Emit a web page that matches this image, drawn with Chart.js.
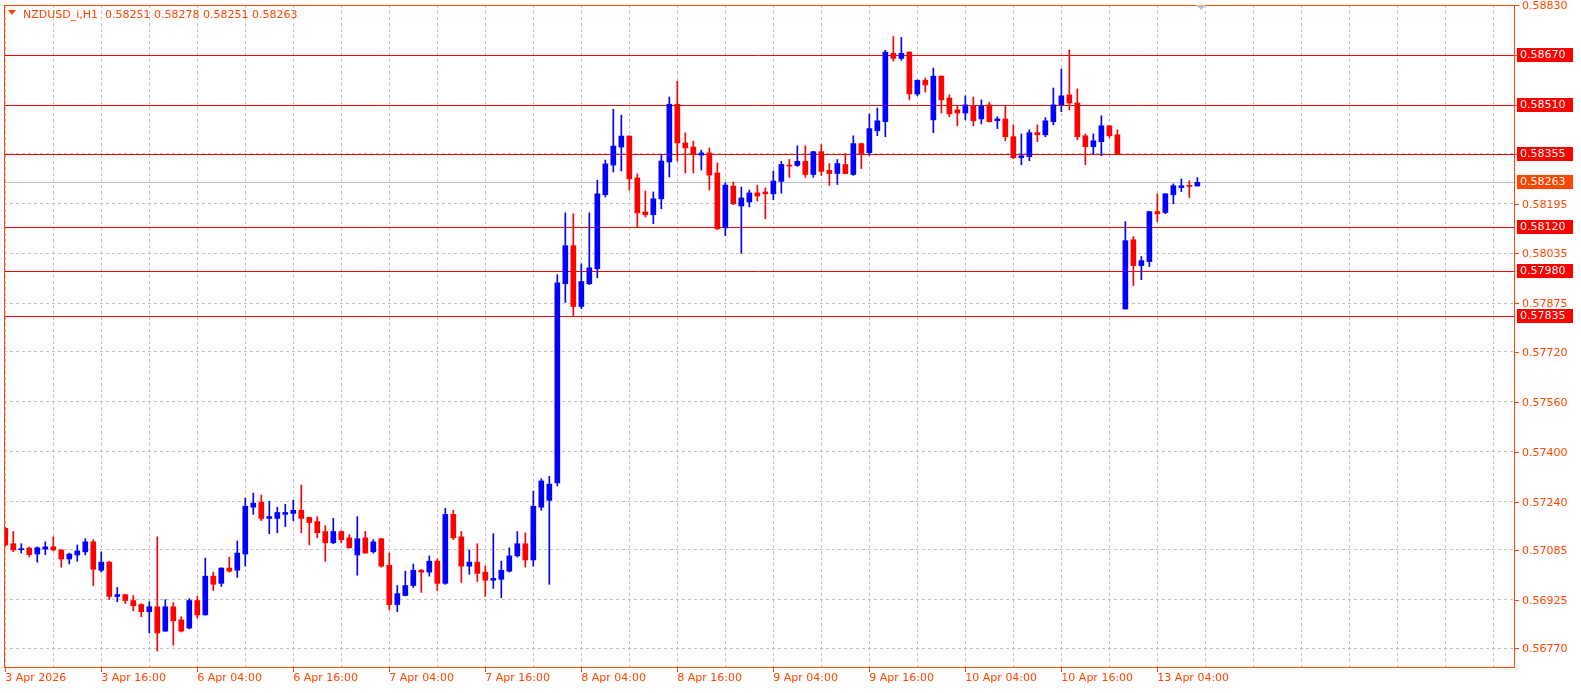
<!DOCTYPE html>
<html>
<head>
<meta charset="utf-8">
<script src="https://cdn.jsdelivr.net/npm/chart.js@4/dist/chart.umd.min.js"></script>
<style>
  html, body { margin: 0; padding: 0; background: #fff; }
  #wrap { width: 1581px; height: 693px; }
</style>
</head>
<body>
<div id="wrap"><canvas id="myChart" width="1581" height="693"></canvas></div>
<script>
// NZDUSD_i H1, candles from 3 Apr 2026 04:00
var opens = [0.57154,0.57105,0.57086,0.57091,0.57072,0.57088,0.57095,0.57085,0.57056,0.57069,
  0.57079,0.57111,0.57020,0.57046,0.56936,0.56942,0.56923,0.56910,0.56887,0.56903,
  0.56825,0.56903,0.56861,0.56835,0.56923,0.56877,0.57001,0.56978,0.57027,0.57020,
  0.57072,0.57222,0.57238,0.57186,0.57186,0.57199,0.57202,0.57212,0.57189,0.57176,
  0.57144,0.57108,0.57144,0.57124,0.57069,0.57124,0.57079,0.57121,0.57036,0.56910,
  0.56939,0.56971,0.57020,0.57014,0.57049,0.56978,0.57199,0.57127,0.57033,0.57046,
  0.57014,0.56988,0.56991,0.57017,0.57066,0.57105,0.57053,0.57222,0.57244,0.57300,
  0.57938,0.58060,0.57865,0.57938,0.57986,0.58223,0.58318,0.58376,0.58411,0.58277,
  0.58168,0.58159,0.58210,0.58328,0.58513,0.58389,0.58376,0.58350,0.58357,0.58293,
  0.58117,0.58251,0.58187,0.58200,0.58229,0.58232,0.58226,0.58266,0.58317,0.58317,
  0.58330,0.58288,0.58361,0.58301,0.58291,0.58320,0.58288,0.58387,0.58358,0.58428,
  0.58457,0.58676,0.58660,0.58680,0.58546,0.58590,0.58463,0.58603,0.58533,0.58495,
  0.58485,0.58508,0.58466,0.58511,0.58460,0.58466,0.58409,0.58342,0.58345,0.58422,
  0.58415,0.58457,0.58511,0.58543,0.58517,0.58412,0.58377,0.58393,0.58444,0.58415,
  0.57857,0.58079,0.57996,0.58009,0.58169,0.58166,0.58223,0.58246,0.58252,0.58251];
var highs = [0.57158,0.57144,0.57105,0.57095,0.57095,0.57111,0.57127,0.57086,0.57075,0.57101,
  0.57121,0.57118,0.57079,0.57049,0.56965,0.56943,0.56939,0.56913,0.56919,0.57127,
  0.56926,0.56916,0.56871,0.56929,0.56936,0.57059,0.57014,0.57028,0.57062,0.57114,
  0.57251,0.57267,0.57261,0.57241,0.57222,0.57231,0.57244,0.57293,0.57190,0.57192,
  0.57163,0.57186,0.57147,0.57134,0.57192,0.57144,0.57118,0.57122,0.57075,0.56971,
  0.57017,0.57040,0.57023,0.57066,0.57056,0.57218,0.57212,0.57144,0.57085,0.57105,
  0.57033,0.57137,0.57049,0.57092,0.57144,0.57140,0.57274,0.57313,0.57321,0.57967,
  0.58165,0.58162,0.58002,0.58165,0.58270,0.58334,0.58497,0.58478,0.58412,0.58290,
  0.58235,0.58232,0.58353,0.58536,0.58587,0.58421,0.58395,0.58366,0.58373,0.58325,
  0.58261,0.58264,0.58248,0.58238,0.58254,0.58245,0.58299,0.58330,0.58336,0.58380,
  0.58380,0.58362,0.58384,0.58323,0.58336,0.58355,0.58412,0.58388,0.58482,0.58501,
  0.58686,0.58730,0.58727,0.58681,0.58591,0.58597,0.58629,0.58604,0.58543,0.58508,
  0.58540,0.58536,0.58527,0.58520,0.58473,0.58508,0.58447,0.58418,0.58431,0.58447,
  0.58470,0.58565,0.58626,0.58687,0.58562,0.58418,0.58418,0.58476,0.58445,0.58431,
  0.58137,0.58089,0.58025,0.58170,0.58226,0.58227,0.58258,0.58274,0.58268,0.58278];
var lows = [0.57098,0.57079,0.57075,0.57063,0.57046,0.57070,0.57082,0.57030,0.57040,0.57049,
  0.57069,0.56971,0.57014,0.56926,0.56919,0.56913,0.56890,0.56871,0.56819,0.56761,
  0.56824,0.56780,0.56822,0.56832,0.56867,0.56876,0.56955,0.56968,0.57014,0.56997,
  0.57033,0.57199,0.57179,0.57137,0.57140,0.57160,0.57179,0.57140,0.57101,0.57124,
  0.57049,0.57105,0.57108,0.57091,0.57004,0.57074,0.57075,0.57030,0.56893,0.56887,
  0.56938,0.56965,0.56949,0.57001,0.56955,0.56975,0.57118,0.56981,0.57007,0.56984,
  0.56936,0.56962,0.56932,0.57014,0.57062,0.57030,0.57033,0.57212,0.56975,0.57290,
  0.57878,0.57836,0.57858,0.57935,0.57957,0.58216,0.58296,0.58299,0.58238,0.58120,
  0.58152,0.58130,0.58178,0.58280,0.58331,0.58293,0.58293,0.58302,0.58238,0.58111,
  0.58092,0.58191,0.58035,0.58184,0.58203,0.58146,0.58207,0.58228,0.58279,0.58314,
  0.58279,0.58279,0.58285,0.58253,0.58256,0.58290,0.58285,0.58307,0.58349,0.58412,
  0.58409,0.58651,0.58654,0.58527,0.58540,0.58552,0.58422,0.58485,0.58473,0.58444,
  0.58463,0.58444,0.58450,0.58456,0.58435,0.58396,0.58338,0.58319,0.58332,0.58393,
  0.58409,0.58447,0.58489,0.58495,0.58399,0.58319,0.58354,0.58348,0.58406,0.58353,
  0.57857,0.57932,0.57951,0.57993,0.58137,0.58162,0.58194,0.58233,0.58214,0.58251];
var closes = [0.57101,0.57085,0.57088,0.57070,0.57092,0.57095,0.57085,0.57056,0.57072,0.57082,
  0.57111,0.57023,0.57046,0.56936,0.56942,0.56923,0.56906,0.56887,0.56903,0.56819,
  0.56903,0.56858,0.56825,0.56923,0.56877,0.57001,0.56975,0.57027,0.57017,0.57075,
  0.57225,0.57235,0.57186,0.57192,0.57205,0.57205,0.57212,0.57186,0.57173,0.57140,
  0.57108,0.57144,0.57118,0.57092,0.57121,0.57075,0.57111,0.57033,0.56910,0.56945,
  0.56971,0.57020,0.57014,0.57049,0.56978,0.57199,0.57124,0.57033,0.57046,0.57010,
  0.56988,0.56994,0.57020,0.57066,0.57105,0.57053,0.57225,0.57306,0.57296,0.57941,
  0.58060,0.57865,0.57945,0.57989,0.58226,0.58322,0.58379,0.58411,0.58274,0.58165,
  0.58159,0.58210,0.58331,0.58513,0.58389,0.58373,0.58353,0.58357,0.58286,0.58114,
  0.58254,0.58194,0.58213,0.58229,0.58219,0.58226,0.58267,0.58320,0.58315,0.58330,
  0.58288,0.58361,0.58298,0.58291,0.58323,0.58291,0.58387,0.58355,0.58435,0.58460,
  0.58680,0.58660,0.58676,0.58546,0.58590,0.58575,0.58603,0.58527,0.58482,0.58485,
  0.58511,0.58460,0.58508,0.58457,0.58466,0.58409,0.58342,0.58348,0.58422,0.58415,
  0.58460,0.58511,0.58540,0.58517,0.58409,0.58377,0.58396,0.58444,0.58412,0.58354,
  0.58076,0.57996,0.58012,0.58169,0.58162,0.58226,0.58252,0.58252,0.58250,0.58263];

var timeLabels = ['3 Apr 2026','3 Apr 16:00','6 Apr 04:00','6 Apr 16:00','7 Apr 04:00','7 Apr 16:00',
  '8 Apr 04:00','8 Apr 16:00','9 Apr 04:00','9 Apr 16:00','10 Apr 04:00','10 Apr 16:00','13 Apr 04:00'];
var priceTicks = [0.58830,0.58670,0.58510,0.58355,0.58195,0.58035,0.57875,0.57720,0.57560,
  0.57400,0.57240,0.57085,0.56925,0.56770];
var levels = [0.58670,0.58510,0.58355,0.58120,0.57980,0.57835];
var bidPrice = 0.58263;

const AXIS = '#ff4500';
const FONT = 'DejaVu Sans';

var bodies = [], wicks = [], colors = [];
for (var i = 0; i < opens.length; i++) {
  bodies.push({ x: i, y: [opens[i], closes[i]] });
  wicks.push({ x: i, y: [lows[i], highs[i]] });
  colors.push(closes[i] >= opens[i] ? '#0000ff' : '#ff0000');
}

const overlay = {
  id: 'overlay',
  beforeDatasetsDraw(chart) {
    var ctx = chart.ctx, a = chart.chartArea, y = chart.scales.y;
    ctx.save();
    ctx.lineWidth = 1;
    var py = Math.round(y.getPixelForValue(bidPrice)) + 0.5;
    ctx.strokeStyle = '#c0c0c0';
    ctx.beginPath(); ctx.moveTo(a.left, py); ctx.lineTo(a.right, py); ctx.stroke();
    ctx.strokeStyle = '#ff0000';
    levels.forEach(function (v) {
      var p = Math.round(y.getPixelForValue(v)) + 0.5;
      ctx.beginPath(); ctx.moveTo(a.left, p); ctx.lineTo(a.right, p); ctx.stroke();
    });
    ctx.restore();
  },
  afterDraw(chart) {
    var ctx = chart.ctx, a = chart.chartArea, y = chart.scales.y, x = chart.scales.x;
    ctx.save();
    // frame
    ctx.strokeStyle = AXIS;
    ctx.lineWidth = 1;
    ctx.strokeRect(Math.round(a.left) + 0.5, Math.round(a.top) + 0.5,
      Math.round(a.right - a.left) - 1, Math.round(a.bottom - a.top));
    // time tick marks
    for (var k = 0; k < timeLabels.length; k++) {
      var tx = Math.round(x.getPixelForValue(k * 12)) + 0.5;
      ctx.beginPath(); ctx.moveTo(tx, a.bottom); ctx.lineTo(tx, a.bottom + 5); ctx.stroke();
    }
    // price labels
    ctx.font = '11px ' + FONT;
    ctx.textBaseline = 'middle';
    ctx.fillStyle = AXIS;
    priceTicks.forEach(function (v) {
      var p = Math.round(y.getPixelForValue(v)) + 0.5;
      ctx.beginPath(); ctx.moveTo(a.right, p); ctx.lineTo(a.right + 4, p); ctx.stroke();
      ctx.fillText(v.toFixed(5), a.right + 7, p + 0.5);
    });
    function box(v, bg) {
      var p = Math.round(y.getPixelForValue(v));
      ctx.fillStyle = bg;
      ctx.fillRect(a.right + 2, p - 7, 56, 14);
      ctx.fillStyle = '#ffffff';
      ctx.fillText(v.toFixed(5), a.right + 5, p + 0.5);
    }
    levels.forEach(function (v) { box(v, '#ff0000'); });
    box(bidPrice, '#ff4500');
    // header
    ctx.fillStyle = AXIS;
    ctx.beginPath(); ctx.moveTo(8, 10); ctx.lineTo(16, 10); ctx.lineTo(12, 15); ctx.closePath(); ctx.fill();
    ctx.textBaseline = 'alphabetic';
    ctx.fillText('NZDUSD_i,H1  0.58251 0.58278 0.58251 0.58263', 23, 18);
    // shift marker
    ctx.fillStyle = '#c0c0c0';
    ctx.beginPath(); ctx.moveTo(1196, 5); ctx.lineTo(1206, 5); ctx.lineTo(1201, 10); ctx.closePath(); ctx.fill();
    ctx.restore();
  }
};

const myChart = new Chart(document.getElementById('myChart'), {
  type: 'bar',
  data: {
    datasets: [{
      label: 'body',
      data: bodies,
      backgroundColor: colors,
      barThickness: 5,
      minBarLength: 1,
      grouped: false
    }, {
      label: 'wick',
      data: wicks,
      backgroundColor: colors,
      barThickness: 1,
      minBarLength: 1,
      grouped: false
    }]
  },
  options: {
    responsive: false,
    animation: false,
    devicePixelRatio: 1,
    layout: { padding: { left: 4, top: 5, right: 0, bottom: 0 } },
    plugins: { legend: { display: false }, tooltip: { enabled: false } },
    scales: {
      x: {
        type: 'linear',
        offset: false,
        min: -0.16,
        max: 188.7,
        afterBuildTicks: function (s) {
          var t = [];
          for (var v = 0; v <= 186; v += 6) t.push({ value: v });
          s.ticks = t;
        },
        afterFit: function (s) { s.height = 26; },
        grid: { color: '#c0c0c0', drawTicks: false, offset: false },
        border: { display: false, dash: [3, 3] },
        ticks: {
          autoSkip: false,
          maxRotation: 0,
          align: 'start',
          padding: 5,
          color: AXIS,
          font: { family: FONT, size: 11 },
          callback: function (v) {
            return (v % 12 === 0 && v / 12 < timeLabels.length) ? timeLabels[v / 12] : '';
          }
        }
      },
      y: {
        position: 'right',
        min: 0.56710,
        max: 0.58831,
        afterBuildTicks: function (s) {
          s.ticks = priceTicks.map(function (v) { return { value: v }; });
        },
        afterFit: function (s) { s.width = 66; },
        grid: { color: '#c0c0c0', drawTicks: false },
        border: { display: false, dash: [3, 3] },
        ticks: { display: false }
      }
    }
  },
  plugins: [overlay]
});
</script>
</body>
</html>
